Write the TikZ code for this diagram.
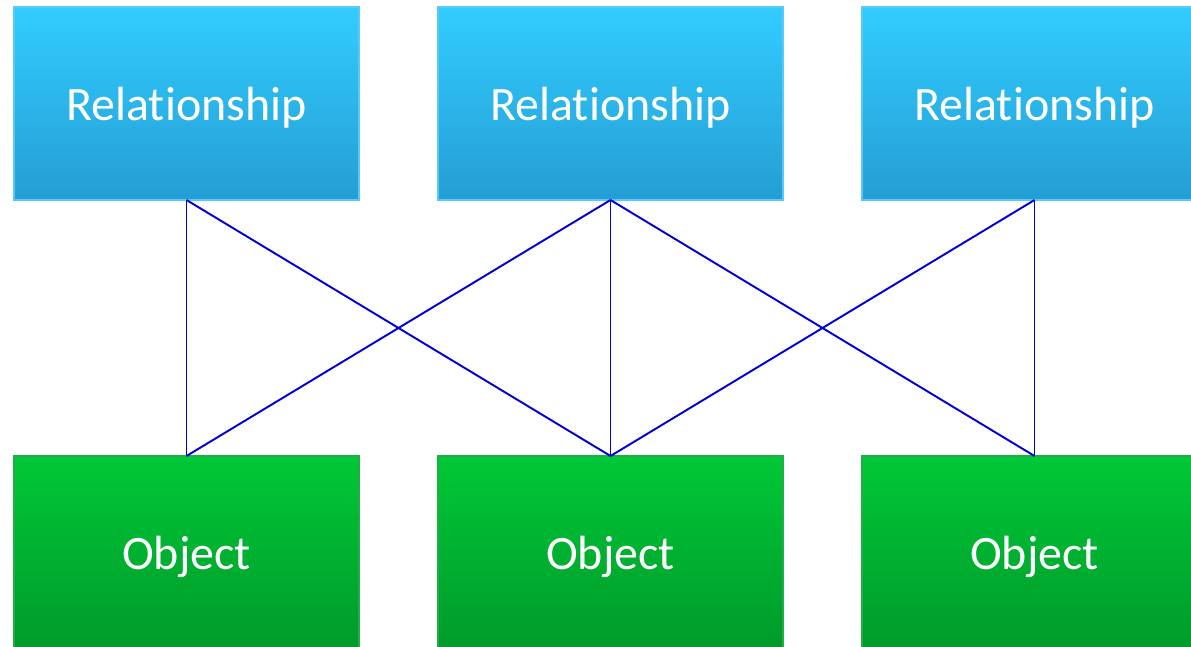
\documentclass[tikz,border=0pt]{standalone}
\usepackage{fontspec}
\setmainfont{Carlito}[Ligatures=NoCommon]
\usepackage{xcolor}
\usetikzlibrary{positioning}
\definecolor{reltop}{RGB}{51,204,255}
\definecolor{relbot}{RGB}{36,158,212}
\definecolor{relline}{RGB}{90,200,250}
\definecolor{objtop}{RGB}{0,200,55}
\definecolor{objbot}{RGB}{0,154,42}
\definecolor{objline}{RGB}{30,175,70}
\definecolor{linkblue}{RGB}{0,0,215}
\tikzstyle{relation} = [rectangle, minimum width=6.9cm, minimum height=3.86cm, inner sep=0pt, outer sep=0pt, draw=relline, line width=0.6pt, top color=reltop, bottom color=relbot, text=white, font=\fontsize{27.3}{31}\selectfont, text height=24.6pt, text depth=5.7pt]
\tikzstyle{object} = [relation, draw=objline, top color=objtop, bottom color=objbot]
\tikzstyle{link} = [linkblue, line width=1.1pt]

\begin{document}
\begin{tikzpicture}[node distance=1.58cm]
        \clip (0,0) rectangle (23.82,-12.94);
        \useasboundingbox (0,0) rectangle (23.82,-12.94);

        % Nodes
        \node (rel1) [relation] at (3.73,-2.07) {Relationship};
        \node (rel2) [relation, right=of rel1] {Relationship};
        \node (rel3) [relation, right=of rel2] {Relationship};

        \node (obj1) [object, below=5.12cm of rel1] {Object};
        \node (obj2) [object, below=5.12cm of rel2] {Object};
        \node (obj3) [object, below=5.12cm of rel3] {Object};

        % Links
        \draw [link] (rel1.south) -- (obj1.north);
        \draw [link] (rel1.south) -- (obj2.north);
        \draw [link] (rel2.south) -- (obj1.north);
        \draw [link] (rel2.south) -- (obj2.north);
        \draw [link] (rel2.south) -- (obj3.north);
        \draw [link] (rel3.south) -- (obj2.north);
        \draw [link] (rel3.south) -- (obj3.north);

    \end{tikzpicture}
\end{document}
